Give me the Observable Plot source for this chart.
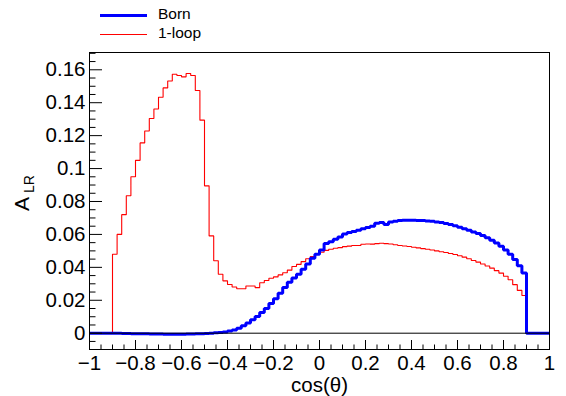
<!DOCTYPE html>
<html><head><meta charset="utf-8">
<script src="https://cdn.jsdelivr.net/npm/d3@7"></script>
<script src="https://cdn.jsdelivr.net/npm/@observablehq/plot@0.6"></script>
<style>
body{margin:0;background:#fff;font-family:"Liberation Sans",Arial,sans-serif;}
#legend{position:relative;width:566px;height:46px;}
.sw{position:absolute;left:100px;width:47px;}
.lab{position:absolute;left:158px;font-size:15.5px;line-height:20px;color:#000;}
</style></head><body>
<div id="legend">
  <div class="sw" style="top:13.5px;border-top:3px solid #0000ff"></div>
  <div class="lab" style="top:4px">Born</div>
  <div class="sw" style="top:33.5px;border-top:1px solid #ff0000"></div>
  <div class="lab" style="top:23px">1-loop</div>
</div>
<div id="chart"></div>
<script>
// histogram: 100 bins on [-1, 1]
const xMin = -1, xMax = 1, nBins = 100;
const seriesNames = ["Born", "1-loop"];

const born = [
  0,0,0,0,0,
  -0.0001,-0.0001,-0.0002,-0.0002,-0.0003,-0.0003,-0.0004,-0.0004,-0.0005,-0.0005,
  -0.0005,-0.0006,-0.0006,-0.0006,-0.0006,-0.0006,-0.0005,-0.0005,-0.0004,-0.0003,
  -0.0002,0.0,0.0002,0.0004,0.0008,0.0013,0.002,0.003,0.0045,0.0062,
  0.0082,0.0102,0.0125,0.015,0.018,0.021,0.0243,0.0278,0.031,0.0335,
  0.0358,0.0388,0.042,0.0455,0.048,0.0505,0.0545,0.0555,0.057,0.0585,
  0.0602,0.0612,0.0618,0.0626,0.0635,0.0642,0.065,0.0668,0.0672,0.066,
  0.0675,0.068,0.0684,0.0686,0.0686,0.0686,0.0685,0.0684,0.0682,0.068,
  0.0676,0.0672,0.0667,0.066,0.0652,0.0644,0.0635,0.0625,0.0615,0.0605,
  0.0594,0.058,0.0565,0.0548,0.0528,0.0505,0.048,0.0448,0.041,0.0365,
  0,0,0,0,0
];

const oneLoop = [
  0,0,0,0,0,
  0.048,0.060,0.072,0.0835,0.095,0.105,0.1156,0.1228,0.1304,0.1362,
  0.1433,0.149,0.1532,0.1573,0.1565,0.1557,0.1577,0.1565,0.1474,0.1294,
  0.0895,0.0591,0.044,0.0358,0.0318,0.0296,0.0281,0.027,0.027,0.0287,
  0.0287,0.0277,0.0306,0.032,0.0334,0.0342,0.0354,0.0367,0.0383,0.0405,
  0.0418,0.0435,0.0452,0.0466,0.048,0.0492,0.0503,0.051,0.0516,0.052,
  0.0526,0.0529,0.0533,0.0533,0.054,0.0542,0.0541,0.0544,0.0546,0.0544,
  0.0542,0.0537,0.0533,0.053,0.0527,0.0522,0.0518,0.0514,0.051,0.0505,
  0.05,0.0495,0.049,0.0484,0.0478,0.047,0.0462,0.0452,0.0442,0.0432,
  0.042,0.0408,0.0395,0.038,0.0365,0.0346,0.0325,0.0295,0.026,0.0229,
  0,0,0,0,0
];

const xTicks = [-1,-0.8,-0.6,-0.4,-0.2,0,0.2,0.4,0.6,0.8,1];
const yTicks = [0,0.02,0.04,0.06,0.08,0.1,0.12,0.14,0.16];
const yDomain = [-0.0099, 0.1705];

const binW = (xMax - xMin) / nBins;
function stepPoints(vals) {
  const pts = [];
  vals.forEach((v, i) => {
    pts.push({x: xMin + i * binW, y: v});
    pts.push({x: xMin + (i + 1) * binW, y: v});
  });
  return pts;
}
const xMinor = d3.range(-20, 21).filter(k => k % 4 !== 0).map(k => k * 0.05);
const yMinor = d3.range(-1, 35).filter(k => k % 4 !== 0).map(k => k * 0.005);

const W = 566, H = 350, mT = 6, mB = 47, mL = 89, mR = 17;
const fw = W - mL - mR, fh = H - mT - mB;
const minus = d => String(d).replace("-", "\u2212");

const chart = Plot.plot({
  width: W, height: H,
  marginTop: mT, marginBottom: mB, marginLeft: mL, marginRight: mR,
  x: {domain: [xMin, xMax], label: null},
  y: {domain: yDomain, label: null},
  style: {fontFamily: "'Liberation Sans', Arial, sans-serif", fontSize: "21px", background: "white", color: "black"},
  marks: [
    Plot.line(stepPoints(oneLoop), {x: "x", y: "y", stroke: "#ff0000", strokeWidth: 1.1, strokeLinejoin: "miter"}),
    Plot.line(stepPoints(born), {x: "x", y: "y", stroke: "#0000ff", strokeWidth: 3, strokeLinejoin: "miter", strokeLinecap: "butt"}),
    Plot.ruleY([0], {stroke: "black", strokeWidth: 1}),
    Plot.ruleX(xTicks, {stroke: "black", insetTop: fh - 9}),
    Plot.ruleX(xMinor, {stroke: "black", insetTop: fh - 4.5}),
    Plot.ruleY(yTicks, {stroke: "black", insetRight: fw - 13}),
    Plot.ruleY(yMinor, {stroke: "black", insetRight: fw - 6.5}),
    Plot.frame({stroke: "black", strokeWidth: 1}),
    Plot.axisX(xTicks, {tickSize: 0, tickPadding: 6, tickFormat: minus, fontSize: 20.5}),
    Plot.axisY(yTicks, {tickSize: 0, tickPadding: 4, tickFormat: d => String(d), fontSize: 20.5}),
    Plot.text(["cos(\u03b8)"], {text: d => d, frameAnchor: "bottom", dy: 42, fontSize: 20.5}),
    Plot.text(["A"], {text: d => d, frameAnchor: "left", dx: -67, dy: 10, rotate: -90, fontSize: 21}),
    Plot.text(["LR"], {text: d => d, frameAnchor: "left", dx: -60, dy: -8, rotate: -90, fontSize: 14})
  ]
});
document.getElementById("chart").appendChild(chart);
</script></body></html>
